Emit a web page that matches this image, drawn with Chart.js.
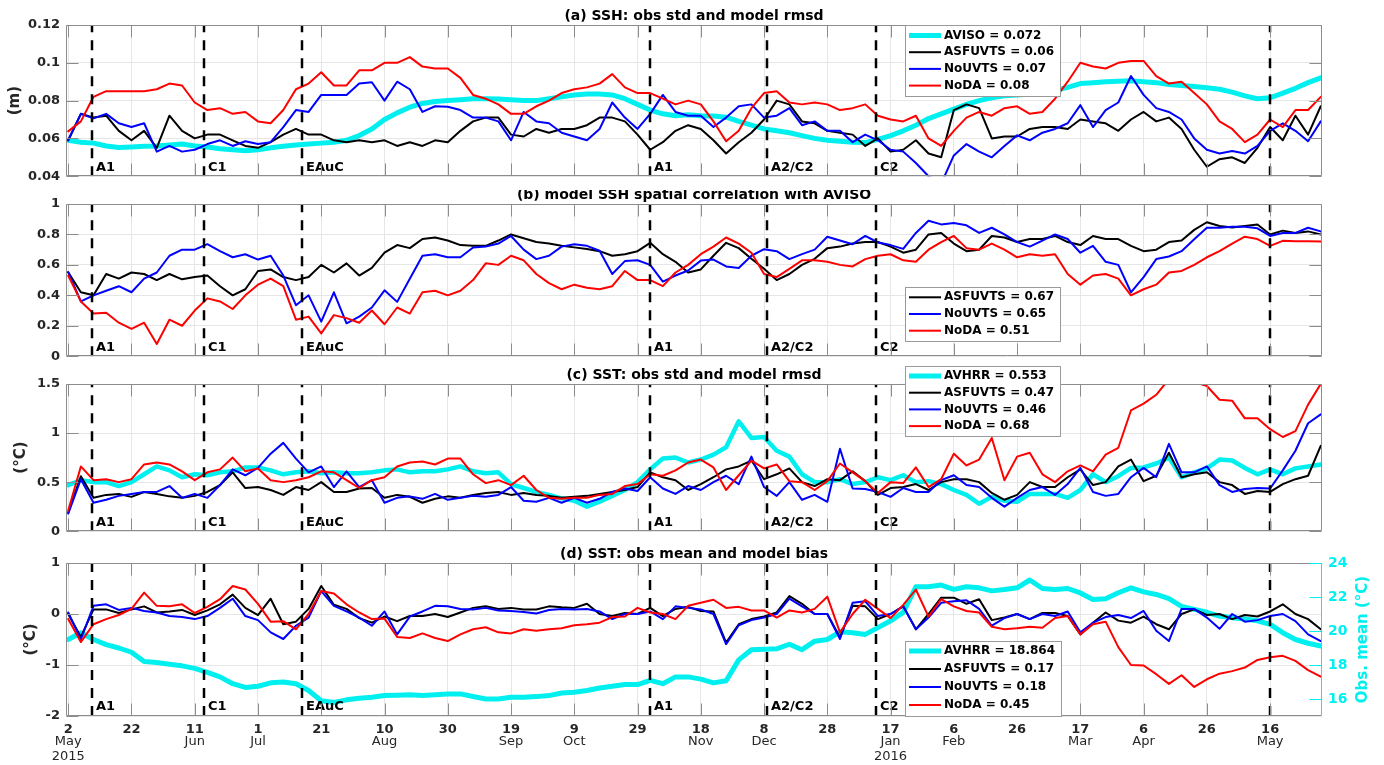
<!DOCTYPE html>
<html>
<head>
<meta charset="utf-8">
<title>SSH and SST skill of the model runs, May 2015 – May 2016</title>
<script src="https://cdn.jsdelivr.net/npm/chart.js@4.4.1/dist/chart.umd.min.js"></script>
<style>
  html, body { margin: 0; padding: 0; background: #ffffff; }
  #figure { position: relative; width: 1384px; height: 765px; overflow: hidden; background: #ffffff; }
  #figure canvas { position: absolute; left: 0; }
</style>
</head>
<body>
<div id="figure">
  <canvas id="panelA" width="1384" height="190" style="top:0px"></canvas>
  <canvas id="panelB" width="1384" height="180" style="top:190px"></canvas>
  <canvas id="panelC" width="1384" height="190" style="top:355px"></canvas>
  <canvas id="panelD" width="1384" height="220" style="top:545px"></canvas>
</div>
<script>
// ---------------------------------------------------------------------------
// Time axis: days since 2 May 2015
// ---------------------------------------------------------------------------
const DAYS = [0,4,8,12,16,20,24,28,32,36,40,44,48,52,56,60,64,68,72,76,
  80,84,88,92,96,100,104,108,112,116,120,124,128,132,136,140,144,148,152,156,
  160,164,168,172,176,180,184,188,192,196,200,204,208,212,216,220,224,228,232,236,
  240,244,248,252,256,260,264,268,272,276,280,284,288,292,296,300,304,308,312,316,
  320,324,328,332,336,340,344,348,352,356,360,364,368,372,376,380,384,388,392,396];

const TICK_DAYS = [0,20,40,60,80,100,120,140,160,180,200,220,240,260,280,300,320,340,360,380];
const TICK_DAY_LABELS = ['2','22','11','1','21','10','30','19','9','29','18','8','28','17','6','26','17','6','26','16'];
const TICK_MONTH_LABELS = ['May','','Jun','Jul','','Aug','','Sep','Oct','','Nov','Dec','','Jan','Feb','','Mar','Apr','','May'];
const TICK_YEAR_LABELS = ['2015','','','','','','','','','','','','','2016','','','','','',''];

// Eddy events marked on every panel
const EVENT_DAYS = [7.5, 43, 74, 184, 221, 255.5, 380];
const EVENT_NAMES = ['A1', 'C1', 'EAuC', 'A1', 'A2/C2', 'C2', ''];

// Run names and their whole-period statistics (legend entries)
const RUN_NAMES = ['ASFUVTS', 'NoUVTS', 'NoDA'];
const AVISO_STD_MEAN = 0.072;
const SSH_RMSD_MEAN = [0.06, 0.07, 0.08];
const SSH_CORR_MEAN = [0.67, 0.65, 0.51];
const AVHRR_STD_MEAN = 0.553;
const SST_RMSD_MEAN = [0.47, 0.46, 0.68];
const AVHRR_MEAN = 18.864;
const SST_BIAS_MEAN = [0.17, 0.18, 0.45];

// Axis ticks
const SSH_TICKS = [0.04, 0.06, 0.08, 0.1, 0.12];
const CORR_TICKS = [0, 0.2, 0.4, 0.6, 0.8, 1];
const SST_STD_TICKS = [0, 0.5, 1, 1.5];
const BIAS_TICKS = [-2, -1, 0, 1];
const SST_MEAN_TICKS = [16, 18, 20, 22, 24];

// ---------------------------------------------------------------------------
// (a) SSH: AVISO std and model rmsd (m)
// ---------------------------------------------------------------------------
const SSH_AVISO_STD = [
  .059,.058,.0575,.056,.0552,.0555,.0558,.056,.0565,.057,
  .056,.0555,.0545,.054,.0535,.054,.055,.0558,.0565,.057,
  .0575,.058,.059,.0615,.065,.070,.0735,.0765,.0785,.0795,
  .080,.0805,.081,.081,.0808,.0805,.080,.080,.081,.082,
  .083,.0835,.0835,.083,.081,.078,.075,.073,.072,.0725,
  .072,.0718,.0712,.069,.067,.065,.064,.063,.0615,.060,
  .059,.0585,.058,.0578,.0595,.0615,.064,.067,.0705,.073,
  .0755,.078,.080,.0815,.0825,.083,.0835,.084,.0855,.087,
  .089,.0895,.090,.0902,.0905,.090,.0895,.0885,.088,.0875,
  .0868,.086,.0845,.0825,.081,.0815,.084,.0865,.0895,.092];
const SSH_RMSD_ASFUVTS = [
  .059,.073,.071,.072,.064,.059,.064,.055,.072,.064,
  .060,.062,.062,.059,.056,.055,.058,.062,.065,.062,
  .062,.059,.058,.059,.058,.059,.056,.058,.056,.059,
  .058,.064,.069,.071,.071,.062,.061,.065,.063,.065,
  .065,.067,.071,.071,.069,.062,.054,.058,.064,.067,
  .065,.059,.052,.058,.063,.070,.080,.078,.069,.068,
  .064,.063,.062,.056,.060,.053,.054,.059,.052,.050,
  .075,.078,.076,.060,.061,.061,.065,.066,.066,.065,
  .070,.069,.068,.064,.070,.074,.069,.071,.065,.054,
  .045,.049,.050,.047,.055,.066,.059,.072,.062,.077];
const SSH_RMSD_NOUVTS = [
  .059,.073,.0706,.073,.068,.066,.068,.053,.056,.053,
  .054,.057,.059,.056,.0585,.057,.058,.066,.075,.074,
  .083,.083,.083,.089,.0897,.080,.090,.086,.074,.077,
  .0767,.075,.071,.071,.069,.059,.074,.069,.068,.063,
  .061,.059,.065,.079,.071,.065,.073,.083,.074,.072,
  .072,.066,.071,.077,.078,.071,.072,.076,.067,.069,
  .064,.064,.058,.062,.059,.054,.053,.047,.040,.036,
  .051,.057,.053,.050,.056,.0616,.059,.063,.065,.068,
  .0776,.066,.075,.079,.093,.083,.076,.074,.070,.060,
  .054,.052,.0533,.052,.056,.064,.068,.064,.0585,.069];
const SSH_RMSD_NODA = [
  .0637,.069,.082,.085,.085,.085,.085,.086,.089,.088,
  .079,.075,.076,.073,.074,.069,.068,.075,.086,.089,
  .095,.088,.088,.096,.096,.100,.100,.103,.098,.097,
  .097,.092,.083,.081,.078,.073,.073,.077,.080,.084,
  .086,.087,.089,.094,.087,.084,.084,.081,.078,.080,
  .078,.069,.0585,.064,.076,.084,.085,.079,.078,.079,
  .078,.075,.076,.078,.072,.070,.069,.072,.060,.056,
  .064,.071,.074,.072,.076,.077,.073,.074,.081,.090,
  .100,.098,.097,.100,.101,.101,.093,.089,.090,.084,
  .078,.069,.065,.058,.062,.070,.066,.075,.075,.082];

// ---------------------------------------------------------------------------
// (b) model SSH spatial correlation with AVISO
// ---------------------------------------------------------------------------
const CORR_ASFUVTS = [
  .552,.42,.40,.54,.51,.55,.54,.50,.54,.505,
  .52,.53,.46,.40,.44,.56,.57,.52,.50,.52,
  .60,.55,.61,.53,.58,.68,.73,.71,.77,.78,
  .76,.73,.725,.725,.76,.80,.775,.75,.74,.725,
  .715,.705,.69,.66,.67,.69,.745,.67,.62,.55,
  .57,.66,.745,.71,.64,.575,.50,.54,.60,.64,
  .71,.72,.74,.75,.75,.72,.68,.70,.80,.81,
  .74,.69,.70,.79,.78,.75,.77,.77,.79,.75,
  .73,.79,.77,.77,.725,.69,.70,.75,.76,.83,
  .88,.855,.845,.855,.865,.80,.825,.81,.82,.80];
const CORR_NOUVTS = [
  .552,.36,.40,.43,.46,.42,.51,.55,.66,.70,
  .70,.736,.69,.65,.67,.635,.66,.53,.335,.40,
  .227,.42,.216,.26,.32,.433,.357,.509,.66,.67,
  .65,.65,.714,.72,.74,.79,.70,.638,.66,.72,
  .736,.725,.693,.54,.625,.63,.60,.49,.53,.563,
  .628,.635,.59,.58,.66,.703,.69,.638,.671,.70,
  .785,.76,.736,.79,.747,.73,.705,.81,.89,.866,
  .875,.86,.81,.844,.80,.75,.72,.76,.80,.77,
  .68,.725,.62,.60,.42,.52,.638,.655,.69,.768,
  .844,.844,.85,.85,.84,.79,.81,.81,.844,.82];
const CORR_NODA = [
  .53,.36,.28,.285,.22,.18,.22,.08,.24,.20,
  .30,.38,.36,.31,.40,.47,.51,.46,.24,.26,
  .15,.27,.25,.22,.30,.21,.32,.28,.42,.43,
  .40,.43,.50,.61,.60,.66,.63,.54,.48,.44,
  .47,.45,.44,.46,.56,.50,.50,.46,.55,.60,
  .67,.72,.78,.74,.68,.54,.52,.574,.63,.63,
  .62,.60,.59,.638,.66,.67,.63,.62,.70,.75,
  .79,.71,.70,.74,.70,.65,.67,.66,.67,.54,
  .47,.53,.54,.51,.40,.44,.47,.55,.56,.60,
  .65,.69,.74,.785,.77,.725,.758,.755,.755,.753];

// ---------------------------------------------------------------------------
// (c) SST: AVHRR std and model rmsd (°C)
// ---------------------------------------------------------------------------
const SST_AVHRR_STD = [
  .47,.52,.50,.50,.46,.50,.58,.66,.62,.55,
  .58,.57,.60,.61,.65,.65,.62,.58,.60,.61,
  .59,.60,.59,.59,.60,.62,.63,.60,.61,.61,
  .63,.66,.61,.59,.60,.48,.44,.40,.37,.335,
  .31,.25,.30,.36,.42,.50,.63,.74,.75,.70,
  .73,.78,.855,1.12,.95,.96,.82,.76,.58,.50,
  .50,.53,.48,.50,.55,.52,.57,.50,.51,.48,
  .42,.37,.28,.35,.31,.30,.38,.38,.38,.34,
  .42,.58,.50,.56,.645,.65,.69,.75,.55,.60,
  .64,.73,.72,.645,.58,.63,.58,.64,.66,.68];
const SST_RMSD_ASFUVTS = [
  .19,.56,.34,.37,.38,.35,.40,.38,.355,.34,
  .36,.40,.47,.60,.44,.45,.42,.37,.45,.42,
  .50,.40,.40,.435,.44,.34,.37,.35,.29,.33,
  .355,.34,.37,.39,.40,.37,.39,.37,.36,.34,
  .35,.36,.38,.40,.42,.45,.60,.55,.52,.42,
  .48,.55,.63,.66,.72,.53,.58,.64,.50,.46,
  .53,.52,.61,.51,.37,.44,.45,.48,.42,.50,
  .53,.53,.50,.39,.32,.37,.50,.45,.45,.55,
  .63,.47,.50,.66,.73,.51,.565,.80,.55,.58,
  .60,.50,.47,.38,.41,.40,.48,.53,.565,.87];
const SST_RMSD_NOUVTS = [
  .18,.53,.29,.32,.36,.38,.40,.40,.46,.34,
  .38,.34,.47,.63,.57,.645,.79,.90,.74,.60,
  .66,.45,.61,.45,.52,.29,.34,.355,.33,.38,
  .32,.34,.36,.35,.37,.45,.31,.30,.34,.29,
  .34,.29,.33,.40,.435,.41,.55,.435,.38,.46,
  .42,.50,.565,.48,.76,.45,.36,.50,.32,.37,
  .30,.84,.435,.43,.40,.35,.44,.40,.40,.52,
  .57,.47,.45,.34,.25,.34,.42,.45,.37,.48,
  .645,.40,.36,.38,.55,.645,.55,.89,.60,.60,
  .66,.47,.40,.43,.44,.435,.62,.82,1.1,1.19];
const SST_RMSD_NODA = [
  .21,.66,.52,.53,.50,.53,.68,.70,.68,.61,
  .52,.60,.63,.75,.61,.64,.52,.50,.52,.55,
  .61,.60,.52,.44,.52,.55,.66,.70,.71,.68,
  .74,.74,.58,.49,.52,.47,.565,.42,.34,.33,
  .34,.34,.37,.38,.46,.48,.58,.565,.62,.70,
  .73,.65,.42,.57,.72,.64,.68,.51,.50,.42,
  .51,.69,.60,.51,.39,.50,.49,.65,.45,.53,
  .79,.67,.73,.95,.52,.76,.80,.58,.50,.61,
  .67,.61,.78,.85,1.23,1.30,1.39,1.55,1.65,1.52,
  1.48,1.34,1.33,1.15,1.15,1.04,.96,1.02,1.29,1.50];

// ---------------------------------------------------------------------------
// (d) SST: AVHRR mean (°C, right axis) and model bias (°C)
// ---------------------------------------------------------------------------
const SST_AVHRR_MEAN = [
  19.5,19.9,19.5,19.2,19.0,18.75,18.2,18.15,18.05,17.95,
  17.8,17.56,17.3,16.9,16.68,16.75,16.95,17.0,16.9,16.5,
  15.9,15.8,15.95,16.05,16.1,16.2,16.22,16.25,16.2,16.25,
  16.3,16.3,16.15,16.0,16.0,16.1,16.1,16.14,16.2,16.35,
  16.4,16.5,16.65,16.75,16.85,16.85,17.1,16.9,17.3,17.3,
  17.17,16.95,17.07,18.3,18.9,18.93,18.95,19.22,18.9,19.4,
  19.5,19.95,19.9,19.8,20.2,20.6,21.1,22.6,22.6,22.7,
  22.45,22.6,22.54,22.36,22.44,22.54,23.0,22.5,22.44,22.5,
  22.24,21.85,21.9,22.25,22.54,22.3,22.15,21.9,21.45,21.27,
  21.1,20.88,20.78,20.7,20.6,20.39,19.9,19.5,19.28,19.12];
const SST_BIAS_ASFUVTS = [
  0,-0.45,0.09,0.09,0.02,0.09,0.15,0.03,0.05,0.08,
  -0.02,0.07,0.19,0.38,0.12,-0.02,0.3,-0.2,-0.15,0.1,
  0.55,0.18,0.1,-0.08,-0.17,-0.05,-0.14,-0.04,-0.04,0,
  -0.06,0.03,0.12,0.15,0.1,0.12,0.09,0.09,0.15,0.13,
  0.12,0.2,0,-0.04,0.02,0,0.12,-0.04,0.1,0.14,
  0.06,0.05,-0.56,-0.2,-0.1,-0.05,0.03,0.35,0.2,0,
  0,-0.46,0.16,0.15,-0.1,0,0.15,-0.3,0,0.32,
  0.32,0.2,0.29,-0.12,-0.07,0,-0.1,0.02,0.02,-0.04,
  -0.4,-0.17,0.03,-0.13,-0.17,-0.05,-0.2,-0.3,0,0.09,
  -0.02,0,-0.1,-0.02,-0.05,0.05,0.19,0,-0.1,-0.3];
const SST_BIAS_NOUVTS = [
  0.03,-0.5,0.16,0.19,0.08,0.12,0.06,0.03,-0.04,-0.06,
  -0.1,-0.04,0.12,0.3,-0.04,-0.12,-0.36,-0.49,-0.23,-0.07,
  0.45,0.16,0.05,-0.07,-0.23,0.05,-0.4,-0.05,0.05,0.16,
  0.15,0.1,0.09,0.12,0.07,0.06,0.04,0.01,0.08,0.1,
  0.09,0.1,0.05,-0.1,0,0,0.05,-0.1,0.15,0.12,
  0.09,0,-0.59,-0.22,-0.12,-0.07,0,0.3,0.15,0,
  0,-0.49,0.22,0.25,-0.04,0,0.15,-0.3,-0.07,0.22,
  0.25,0.27,0.1,-0.23,-0.08,0,-0.1,0,-0.04,0.05,
  -0.36,-0.17,-0.06,-0.02,-0.08,0.06,-0.33,-0.53,0.1,0.1,
  -0.07,-0.29,0,-0.15,-0.12,-0.04,0,-0.14,-0.4,-0.53];
const SST_BIAS_NODA = [
  -0.1,-0.55,-0.2,-0.1,-0.02,0.1,0.42,0.16,0.15,0.19,
  0.02,0.14,0.29,0.55,0.48,0.2,-0.15,-0.14,-0.3,0,
  0.45,0.4,0.19,0.03,-0.1,-0.09,-0.45,-0.47,-0.38,-0.47,
  -0.53,-0.4,-0.3,-0.26,-0.36,-0.38,-0.3,-0.33,-0.3,-0.28,
  -0.22,-0.2,-0.17,-0.06,-0.05,0.12,0.03,0,-0.1,0.16,
  0.22,0.28,0.12,0.14,0.07,0.07,-0.07,0.07,0.03,0.1,
  0.34,-0.36,0,0.28,0.1,-0.08,0.18,0.48,-0.05,0.29,
  0.15,0.06,0.03,-0.25,-0.3,-0.28,-0.25,-0.27,-0.08,-0.04,
  -0.4,-0.2,-0.15,-0.65,-1.0,-1.01,-1.18,-1.37,-1.2,-1.43,
  -1.28,-1.17,-1.12,-1.05,-0.9,-0.85,-0.82,-0.92,-1.1,-1.23];

// ---------------------------------------------------------------------------
// Styling
// ---------------------------------------------------------------------------
const FONT = '"DejaVu Sans", "Liberation Sans", sans-serif';
const INK = '#262626';
const AXIS_GREY = '#8c8c8c';
const GRID_GREY = '#e6e6e6';
const CYAN = '#00f0f0';
const RUN_COLORS = ['#000000', '#0000ff', '#ff0000'];
const X_MIN = -0.7, X_MAX = 396.4;
const PLOT_LEFT = 66, PLOT_RIGHT_GAP = 62;

function line(values, color, width, order, axis) {
  return {
    data: DAYS.map((d, i) => ({ x: d, y: values[i] })),
    borderColor: color, borderWidth: width, pointRadius: 0, pointHoverRadius: 0,
    tension: 0, fill: false, order: order, yAxisID: axis || 'y',
    borderJoinStyle: 'round', borderCapStyle: 'round'
  };
}

// Frame, inner ticks, event markers, titles and the boxed legend of a panel
const panelFrame = {
  id: 'panelFrame',
  afterDatasetsDraw(chart, args, o) {
    const c = chart.ctx, a = chart.chartArea, xs = chart.scales.x;
    c.save();
    c.beginPath();
    c.rect(a.left, a.top, a.right - a.left, a.bottom - a.top);
    c.clip();
    c.strokeStyle = '#000000';
    c.lineWidth = 2.5;
    c.setLineDash([10, 8]);
    EVENT_DAYS.forEach(d => {
      const px = Math.round(xs.getPixelForValue(d));
      c.beginPath();
      c.moveTo(px, a.bottom);
      c.lineTo(px, a.top);
      c.stroke();
    });
    c.setLineDash([]);
    c.fillStyle = '#000000';
    c.font = 'bold 13px ' + FONT;
    c.textAlign = 'left';
    c.textBaseline = 'middle';
    EVENT_DAYS.forEach((d, i) => {
      if (EVENT_NAMES[i]) c.fillText(EVENT_NAMES[i], Math.round(xs.getPixelForValue(d)) + 4, a.bottom - 9);
    });
    c.restore();
  },
  afterDraw(chart, args, o) {
    const c = chart.ctx, a = chart.chartArea, xs = chart.scales.x, ys = chart.scales.y, y2 = chart.scales.y2;
    const L = Math.round(a.left) + 0.5, R = Math.round(a.right) - 0.5;
    const T = Math.round(a.top) + 0.5, B = Math.round(a.bottom) - 0.5;
    const TL = 12;
    c.save();
    // inner tick marks
    c.lineWidth = 1;
    c.strokeStyle = AXIS_GREY;
    c.beginPath();
    TICK_DAYS.forEach(d => {
      const px = Math.round(xs.getPixelForValue(d)) + 0.5;
      c.moveTo(px, B); c.lineTo(px, B - TL);
      c.moveTo(px, T); c.lineTo(px, T + TL);
    });
    ys.ticks.forEach(t => {
      const py = Math.round(ys.getPixelForValue(t.value)) + 0.5;
      c.moveTo(L, py); c.lineTo(L + TL, py);
      if (!y2) { c.moveTo(R, py); c.lineTo(R - TL, py); }
    });
    c.stroke();
    // frame
    c.beginPath();
    c.moveTo(L, B); c.lineTo(L, T); c.lineTo(R, T);
    c.moveTo(L, B); c.lineTo(R, B);
    if (!y2) { c.moveTo(R, T); c.lineTo(R, B); }
    c.stroke();
    if (y2) {
      c.strokeStyle = CYAN;
      c.beginPath();
      c.moveTo(R, T); c.lineTo(R, B);
      y2.ticks.forEach(t => {
        const py = Math.round(y2.getPixelForValue(t.value)) + 0.5;
        c.moveTo(R, py); c.lineTo(R - TL, py);
      });
      c.stroke();
    }
    // panel title
    c.fillStyle = '#000000';
    c.font = 'bold 14px ' + FONT;
    c.textAlign = 'center';
    c.textBaseline = 'middle';
    c.fillText(o.title, (a.left + a.right) / 2, a.top - 9);
    // axis titles
    c.font = 'bold 15px ' + FONT;
    if (o.yTitle) {
      c.save();
      c.translate(o.yTitleX, (a.top + a.bottom) / 2);
      c.rotate(-Math.PI / 2);
      c.fillStyle = INK;
      c.fillText(o.yTitle, 0, 0);
      c.restore();
    }
    if (o.y2Title) {
      c.save();
      c.translate(o.y2TitleX, (a.top + a.bottom) / 2);
      c.rotate(-Math.PI / 2);
      c.fillStyle = CYAN;
      c.fillText(o.y2Title, 0, 0);
      c.restore();
    }
    // month / year rows below the day numbers
    if (o.months) {
      c.fillStyle = INK;
      c.font = '13px ' + FONT;
      TICK_DAYS.forEach((d, i) => {
        const px = xs.getPixelForValue(d);
        if (TICK_MONTH_LABELS[i]) c.fillText(TICK_MONTH_LABELS[i], px, a.bottom + 26);
        if (TICK_YEAR_LABELS[i]) c.fillText(TICK_YEAR_LABELS[i], px, a.bottom + 41);
      });
    }
    // boxed legend
    const lg = o.legend;
    if (lg) {
      c.fillStyle = '#ffffff';
      c.fillRect(lg.x, lg.y, lg.w, lg.h);
      c.strokeStyle = '#9a9a9a';
      c.lineWidth = 1;
      c.strokeRect(lg.x + 0.5, lg.y + 0.5, lg.w, lg.h);
      c.font = 'bold 12px ' + FONT;
      c.textAlign = 'left';
      c.textBaseline = 'middle';
      lg.items.forEach((it, i) => {
        const y = lg.y + lg.first + i * lg.step;
        c.strokeStyle = it.color;
        c.lineWidth = it.width;
        c.lineCap = 'butt';
        c.beginPath();
        c.moveTo(lg.x + 4, y);
        c.lineTo(lg.x + 36, y);
        c.stroke();
        c.fillStyle = '#000000';
        c.fillText(it.text, lg.x + 39, y);
      });
    }
    c.restore();
  }
};

function legendItems(obsName, obsValue, runValues) {
  const items = [];
  if (obsName) items.push({ text: obsName + ' = ' + obsValue, color: CYAN, width: 5 });
  RUN_NAMES.forEach((n, i) => items.push({ text: n + ' = ' + runValues[i], color: RUN_COLORS[i], width: 2 }));
  return items;
}

function buildPanel(id, cfg) {
  const tickFont = { family: FONT, size: 13, weight: 'bold' };
  const scales = {
    x: {
      type: 'linear', min: X_MIN, max: X_MAX,
      afterBuildTicks: s => { s.ticks = TICK_DAYS.map(v => ({ value: v })); },
      afterFit: s => { s.height = cfg.xHeight; },
      grid: { color: GRID_GREY, lineWidth: 1, drawTicks: false },
      border: { display: false },
      ticks: {
        display: cfg.showX, autoSkip: false, maxRotation: 0, minRotation: 0, padding: 6,
        color: INK, font: tickFont, callback: (v, i) => TICK_DAY_LABELS[i]
      }
    },
    y: {
      type: 'linear', position: 'left', min: cfg.yMin, max: cfg.yMax,
      afterBuildTicks: s => { s.ticks = cfg.yTicks.map(v => ({ value: v })); },
      afterFit: s => { s.width = PLOT_LEFT; },
      grid: { color: GRID_GREY, lineWidth: 1, drawTicks: false },
      border: { display: false },
      ticks: { padding: 6, color: INK, font: tickFont, callback: v => String(v) }
    }
  };
  if (cfg.y2) {
    scales.y2 = {
      type: 'linear', position: 'right', min: cfg.y2.min, max: cfg.y2.max,
      afterBuildTicks: s => { s.ticks = cfg.y2.ticks.map(v => ({ value: v })); },
      afterFit: s => { s.width = PLOT_RIGHT_GAP; },
      grid: { drawOnChartArea: false, drawTicks: false },
      border: { display: false },
      ticks: { padding: 6, color: CYAN, font: { family: FONT, size: 14, weight: 'bold' }, callback: v => String(v) }
    };
  }
  return new Chart(document.getElementById(id), {
    type: 'line',
    data: { datasets: cfg.datasets },
    options: {
      responsive: false, animation: false, devicePixelRatio: 1, events: [],
      layout: { padding: cfg.padding },
      scales: scales,
      plugins: { legend: { display: false }, tooltip: { enabled: false }, panelFrame: cfg.frame }
    },
    plugins: [panelFrame]
  });
}

// (a)
buildPanel('panelA', {
  yMin: 0.04, yMax: 0.12, yTicks: SSH_TICKS, showX: false, xHeight: 0,
  padding: { left: 0, right: PLOT_RIGHT_GAP, top: 25, bottom: 11 },
  datasets: [
    line(SSH_AVISO_STD, CYAN, 5, 3),
    line(SSH_RMSD_ASFUVTS, RUN_COLORS[0], 2, 2),
    line(SSH_RMSD_NOUVTS, RUN_COLORS[1], 2, 1),
    line(SSH_RMSD_NODA, RUN_COLORS[2], 2, 0)
  ],
  frame: {
    title: '(a) SSH: obs std and model rmsd', yTitle: '(m)', yTitleX: 15,
    legend: { x: 905, y: 25, w: 155, h: 71, first: 10.5, step: 16.7, items: legendItems('AVISO', AVISO_STD_MEAN, SSH_RMSD_MEAN) }
  }
});

// (b)
buildPanel('panelB', {
  yMin: 0, yMax: 1, yTicks: CORR_TICKS, showX: false, xHeight: 0,
  padding: { left: 0, right: PLOT_RIGHT_GAP, top: 14, bottom: 12 },
  datasets: [
    line(CORR_ASFUVTS, RUN_COLORS[0], 2, 2),
    line(CORR_NOUVTS, RUN_COLORS[1], 2, 1),
    line(CORR_NODA, RUN_COLORS[2], 2, 0)
  ],
  frame: {
    title: '(b) model SSH spatial correlation with AVISO',
    legend: { x: 905, y: 97, w: 155, h: 54, first: 10.3, step: 16.7, items: legendItems(null, null, SSH_CORR_MEAN) }
  }
});

// (c)
buildPanel('panelC', {
  yMin: 0, yMax: 1.5, yTicks: SST_STD_TICKS, showX: false, xHeight: 0,
  padding: { left: 0, right: PLOT_RIGHT_GAP, top: 29, bottom: 7 },
  datasets: [
    line(SST_AVHRR_STD, CYAN, 4.5, 3),
    line(SST_RMSD_ASFUVTS, RUN_COLORS[0], 2, 2),
    line(SST_RMSD_NOUVTS, RUN_COLORS[1], 2, 1),
    line(SST_RMSD_NODA, RUN_COLORS[2], 2, 0)
  ],
  frame: {
    title: '(c) SST: obs std and model rmsd', yTitle: '(°C)', yTitleX: 21,
    legend: { x: 905, y: 11, w: 155, h: 70, first: 10, step: 16.7, items: legendItems('AVHRR', AVHRR_STD_MEAN, SST_RMSD_MEAN) }
  }
});

// (d)
buildPanel('panelD', {
  yMin: -2, yMax: 1, yTicks: BIAS_TICKS, showX: true, xHeight: 49,
  y2: { min: 15, max: 24, ticks: SST_MEAN_TICKS },
  padding: { left: 0, right: 0, top: 18, bottom: 0 },
  datasets: [
    line(SST_AVHRR_MEAN, CYAN, 5, 3, 'y2'),
    line(SST_BIAS_ASFUVTS, RUN_COLORS[0], 2, 2),
    line(SST_BIAS_NOUVTS, RUN_COLORS[1], 2, 1),
    line(SST_BIAS_NODA, RUN_COLORS[2], 2, 0)
  ],
  frame: {
    title: '(d) SST: obs mean and model bias', yTitle: '(°C)', yTitleX: 31,
    y2Title: 'Obs. mean (°C)', y2TitleX: 1363, months: true,
    legend: { x: 905, y: 96, w: 156, h: 75, first: 10, step: 18, items: legendItems('AVHRR', AVHRR_MEAN, SST_BIAS_MEAN) }
  }
});
</script>
</body>
</html>
